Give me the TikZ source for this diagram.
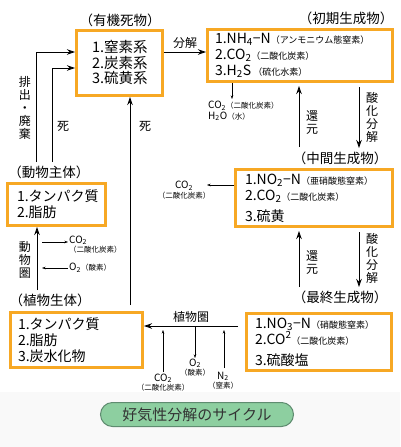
\documentclass[tikz,border=0pt]{standalone}
\usepackage{fontspec}
\setmainfont{Noto Sans CJK JP}
\usetikzlibrary{arrows.meta,positioning}
\definecolor{boxorange}{HTML}{F7A824}
\definecolor{bannergreen}{HTML}{8DCFA0}
\definecolor{bannerline}{HTML}{5F8C70}
\newcommand{\smallnote}[1]{{\fontsize{9}{10}\selectfont #1}}
\newcommand{\tinynote}[1]{{\fontsize{7.5}{8.5}\selectfont #1}}

\begin{document}
\begin{tikzpicture}[x=1pt, y=-1pt, >=Stealth,
    stage/.style={draw=boxorange, line width=2.6pt, fill=white, align=left, inner ysep=0pt},
    heading/.style={font=\fontsize{13.5}{15}\selectfont},
    flow/.style={->, line width=0.9pt, >={Stealth[length=8pt,width=5.5pt]}},
    gasarrow/.style={->, line width=0.45pt, >={Stealth[length=3.5pt,width=2.5pt]}},
    vtext/.style={align=center, font=\fontsize{12}{13}\selectfont, inner sep=0pt},
    gas/.style={align=center, font=\fontsize{10}{9.5}\selectfont, inner sep=0pt},
    banner/.style={draw=bannerline, line width=1pt, fill=bannergreen, rounded corners=12pt,
      minimum width=193pt, minimum height=24pt, font=\fontsize{15}{17}\selectfont, text=black!80}]
    \useasboundingbox (0,0) rectangle (400,447);
    \fill[gray!5] (0,392) rectangle (400,447);

    % stages
    \node[stage, text width=55pt, inner xsep=15.7pt, minimum height=65.4pt,
      font=\fontsize{14.5}{15.5}\selectfont] (yuki) at (119.5,63) {1.窒素系\\2.炭素系\\3.硫黄系};
    \node[stage, text width=170pt, inner xsep=7.7pt, minimum height=52.4pt,
      font=\fontsize{14}{16}\selectfont] (shoki) at (300,55.5)
      {1.NH\textsubscript{4}−N\smallnote{（アンモニウム態窒素）}\\2.CO\textsubscript{2}\smallnote{（二酸化炭素）}\\3.H\textsubscript{2}S\,\smallnote{（硫化水素）}};
    \node[stage, text width=138pt, inner xsep=9.7pt, minimum height=57.4pt,
      font=\fontsize{14}{16}\selectfont] (chukan) at (314,198)
      {1.NO\textsubscript{2}−N\smallnote{（亜硝酸態窒素）}\\2.CO\textsubscript{2}\smallnote{（二酸化炭素）}\\[5pt]3.硫黄};
    \node[stage, text width=128pt, inner xsep=8.7pt, minimum height=57.4pt,
      font=\fontsize{14}{16}\selectfont] (saishu) at (319,342)
      {1.NO\textsubscript{3}−N\smallnote{（硝酸態窒素）}\\2.CO\textsuperscript{2}\smallnote{（二酸化炭素）}\\[5pt]3.硫酸塩};
    \node[stage, text width=79pt, inner xsep=9.7pt, minimum height=42.4pt,
      font=\fontsize{14}{16}\selectfont] (dobutsu) at (56.5,204.5) {1.タンパク質\\2.脂肪};
    \node[stage, text width=117pt, inner xsep=7.7pt, minimum height=55.4pt,
      font=\fontsize{14}{16}\selectfont] (shokubutsu) at (76.5,340) {1.タンパク質\\2.脂肪\\3.炭水化物};

    \node[heading] (yuki label) at (120,20) {（有機死物）};
    \node[heading] (shoki label) at (346,18) {（初期生成物）};
    \node[heading] (chukan label) at (340,158) {（中間生成物）};
    \node[heading] (saishu label) at (340,297) {（最終生成物）};
    \node[heading] (dobutsu label) at (49,172) {（動物主体）};
    \node[heading] (shokubutsu label) at (50,300) {（植物生体）};

    % decomposition
    \coordinate (bunkai) at ([yshift=11pt]yuki.east);
    \draw[flow] (bunkai) -- (bunkai -| shoki.west)
      node[midway, above, font=\fontsize{12}{13}\selectfont] (bunkai label) {分解};

    % animals and plants back to dead matter
    \coordinate (haiki) at ([xshift=-13pt]dobutsu label.north);
    \coordinate (shibou) at ([xshift=3pt]dobutsu label.north);
    \draw[flow] (haiki) |- ([yshift=11pt]yuki.west);
    \draw[flow] (shibou) |- ([yshift=-5pt]yuki.west);
    \node[vtext] (haiki label) at (25,108) {排\\出\\・\\廃\\棄};
    \node[vtext] (shibou label) at (63,126) {死};
    \coordinate (kare) at (130,305);
    \draw[flow] (kare) -- (kare |- yuki.south);
    \node[vtext] (kare label) at (145,126) {死};

    % initial products
    \draw[gasarrow] ([xshift=-68pt]shoki.south) -- ++(0,16) coordinate (kokyu);
    \node[gas, anchor=north west, align=left, font=\fontsize{10}{10.5}\selectfont] (kokyu gas) at (208,101)
      {CO\textsubscript{2}\tinynote{（二酸化炭素）}\\H\textsubscript{2}O\tinynote{（水）}};
    \coordinate (kangen1) at (299,147);
    \draw[flow, shorten >=3pt] (kangen1) -- (kangen1 |- shoki.south);
    \node[vtext] (kangen1 label) at (312,123) {還\\元};
    \coordinate (sanka1) at (359,148);
    \draw[flow, shorten <=4pt] (sanka1 |- shoki.south) -- (sanka1);
    \node[vtext] (sanka1 label) at (372,117) {酸\\化\\分\\解};

    % intermediate products
    \coordinate (chukan co2) at ([yshift=13pt]chukan.west);
    \draw[gasarrow] (chukan co2) -- ++(-27,0) coordinate (chukan co2 end);
    \node[gas] (chukan gas) at (184,190) {CO\textsubscript{2}\\\tinynote{（二酸化炭素）}};
    \coordinate (kangen2) at (299,287);
    \draw[flow, shorten >=3pt] (kangen2) -- (kangen2 |- chukan.south);
    \node[vtext] (kangen2 label) at (312,263) {還\\元};
    \coordinate (sanka2) at (359,287);
    \draw[flow, shorten <=4pt] (sanka2 |- chukan.south) -- (sanka2);
    \node[vtext] (sanka2 label) at (372,258) {酸\\化\\分\\解};

    % animal sphere
    \coordinate (dobutsuken) at (37,290);
    \draw[flow] (dobutsuken) -- (dobutsuken |- dobutsu.south);
    \node[vtext] (dobutsuken label) at (25,260) {動\\物\\圏};
    \coordinate (haki co2) at (42,242);
    \draw[gasarrow] (haki co2) -- ++(26,0) coordinate (haki co2 end);
    \node[gas, anchor=west, align=left] (haki gas) at (69,244.5) {CO\textsubscript{2}\\\tinynote{（二酸化炭素）}};
    \coordinate (kyu o2) at (68,268);
    \draw[gasarrow] (kyu o2) -- ++(-26,0) coordinate (kyu o2 end);
    \node[gas, anchor=west] (kyu gas) at (69,268) {O\textsubscript{2}\tinynote{（酸素）}};

    % plant sphere
    \coordinate (shokubutsuken) at ([xshift=-7pt,yshift=16pt]saishu.west);
    \draw[flow] (shokubutsuken) -- (shokubutsuken -| shokubutsu.east)
      node[midway, above, font=\fontsize{12}{13}\selectfont] (shokubutsuken label) {植物圏};
    \coordinate (kogo co2) at (163,372);
    \draw[gasarrow, shorten >=4pt] (kogo co2) -- (kogo co2 |- shokubutsuken);
    \coordinate (kogo o2) at (195,358);
    \draw[gasarrow] (kogo o2 |- shokubutsuken) -- (kogo o2);
    \coordinate (kogo n2) at (224,368);
    \draw[gasarrow, shorten >=4pt] (kogo n2) -- (kogo n2 |- shokubutsuken);
    \node[gas] (kogo co2 gas) at (163,382.5) {CO\textsubscript{2}\\\tinynote{（二酸化炭素）}};
    \node[gas] (kogo o2 gas) at (195,367.5) {O\textsubscript{2}\\\tinynote{（酸素）}};
    \node[gas] (kogo n2 gas) at (223,380.5) {N\textsubscript{2}\\\tinynote{（窒素）}};

    \node[banner] (cycle) at (197,414.5) {好気性分解のサイクル};
\end{tikzpicture}
\end{document}
